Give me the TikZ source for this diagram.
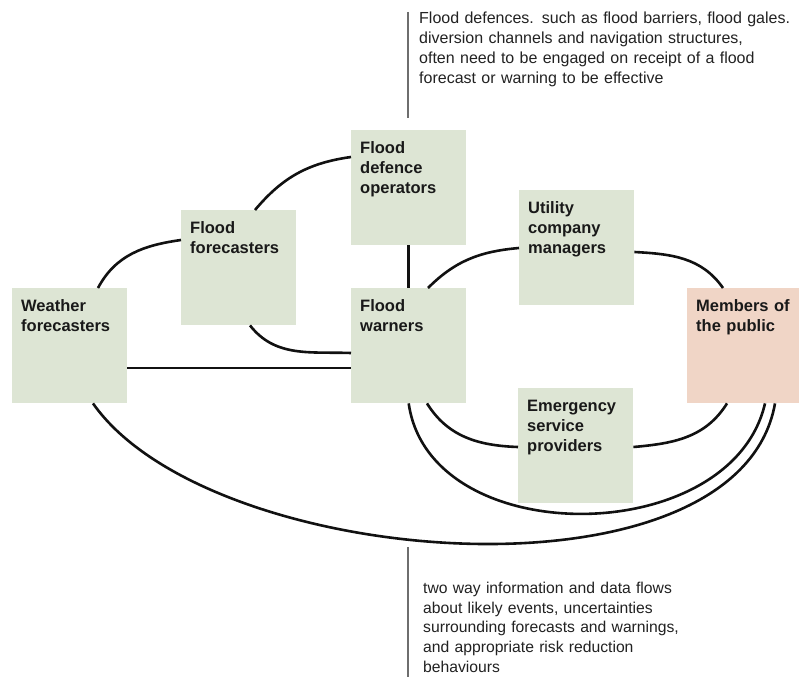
\documentclass[tikz,border=0pt]{standalone}
\usepackage{fontspec}
\setmainfont{Liberation Sans}
\definecolor{boxgreen}{RGB}{221,229,212}
\definecolor{boxpeach}{RGB}{240,213,198}
\definecolor{linkcol}{RGB}{17,17,17}
\definecolor{notecol}{RGB}{34,34,34}
\definecolor{barcol}{RGB}{110,110,110}
\tikzset{
  actor/.style={fill=boxgreen, draw=none, anchor=north west, align=left,
    inner xsep=9pt, inner ysep=0pt, text width=97pt,
    text height=23pt, text depth=92pt, text=black!90,
    font=\fontsize{16.5}{20}\selectfont\bfseries},
  public/.style={actor, fill=boxpeach, text width=94pt},
  link/.style={draw=linkcol, line width=2.6pt},
  note/.style={anchor=north west, align=left, inner sep=0pt, text=notecol,
    text width=390pt, text height=23pt, font=\fontsize{16}{20}\selectfont},
  notebar/.style={draw=barcol, line width=1.4pt}
}
\begin{document}
\begin{tikzpicture}[x=1pt, y=1pt]
\useasboundingbox (0,0) rectangle (799,-677);
\fill[white] (0,0) rectangle (799,-677);

% actors
\node[actor]  (wf)  at (12,-288)  {Weather\\forecasters};
\node[actor]  (ff)  at (181,-210) {Flood\\forecasters};
\node[actor]  (fdo) at (351,-130) {Flood\\defence\\operators};
\node[actor]  (fw)  at (351,-288) {Flood\\warners};
\node[actor]  (ucm) at (519,-190) {Utility\\company\\managers};
\node[actor]  (esp) at (518,-388) {Emergency\\service\\providers};
\node[public] (mp)  at (687,-288) {Members of\\the public};

% information flows
\draw[link] ([xshift=86pt]wf.north west) to[out=62, in=188] ([yshift=-30pt]ff.north west);
\draw[link] ([xshift=74pt]ff.north west) to[out=50, in=188] ([yshift=-27pt]fdo.north west);
\draw[link] ([xshift=69pt]ff.south west) to[out=-52, in=178] ([yshift=-65pt]fw.north west);
\draw[link] (fdo.south) -- (fw.north);
\draw[link] ([yshift=-80pt]wf.north east) -- ([yshift=-80pt]fw.north west);
\draw[link] ([xshift=77pt]fw.north west) to[out=45, in=185] ([yshift=-58pt]ucm.north west);
\draw[link] ([yshift=-62pt]ucm.north east) to[out=-3, in=125] ([xshift=36pt]mp.north west);
\draw[link] ([xshift=76pt]fw.south west) to[out=-58, in=178] ([yshift=-59pt]esp.north west);
\draw[link] ([yshift=-59pt]esp.north east) to[out=5, in=-122] ([xshift=40pt]mp.south west);
\draw[link] (fw.south) to[out=-82, in=-103, distance=150pt] ([xshift=78pt]mp.south west);
\draw[link] ([xshift=81pt]wf.south west) to[out=-55, in=-100, out distance=204pt, in distance=210pt] ([xshift=88pt]mp.south west);

% annotations
\coordinate (topbar-a) at (408,-12);
\coordinate (topbar-b) at (408,-118);
\draw[notebar] (topbar-a) -- (topbar-b);
\node[note] (topnote) at (419,0)
  {Flood defences. such as flood barriers, flood gales.\\
   diversion channels and navigation structures,\\
   often need to be engaged on receipt of a flood\\
   forecast or warning to be effective};

\coordinate (botbar-a) at (408,-547);
\coordinate (botbar-b) at (408,-677);
\draw[notebar] (botbar-a) -- (botbar-b);
\node[note, font=\fontsize{15.7}{19.8}\selectfont] (botnote) at (423,-570)
  {two way information and data flows\\
   about likely events, uncertainties\\
   surrounding forecasts and warnings,\\
   and appropriate risk reduction\\
   behaviours};
\end{tikzpicture}
\end{document}
